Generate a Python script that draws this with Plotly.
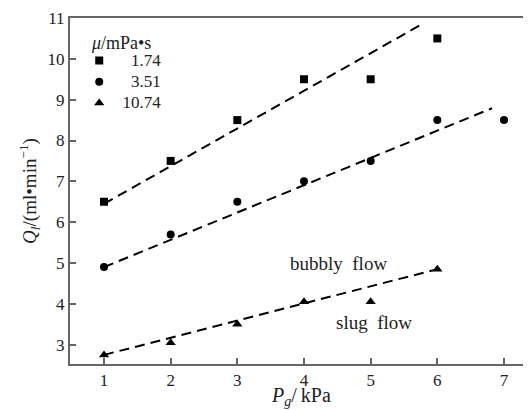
import plotly.graph_objects as go

# Data
pg = [1, 2, 3, 4, 5, 6]
pg_351 = [1, 2, 3, 4, 5, 6, 7]
q_174 = [6.5, 7.5, 8.5, 9.5, 9.5, 10.5]
q_351 = [4.9, 5.7, 6.5, 7.0, 7.5, 8.5, 8.5]
q_1074 = [2.75, 3.05, 3.5, 4.05, 4.05, 4.85]

# dashed fit lines (endpoints)
fit_174_x = [1.0, 5.77]
fit_174_y = [6.45, 10.85]
fit_351_x = [1.0, 6.82]
fit_351_y = [4.9, 8.79]
fit_1074_x = [1.0, 6.0]
fit_1074_y = [2.75, 4.85]

series_labels = ["1.74", "3.51", "10.74"]
legend_title = "<i>μ</i>/mPa•s"
x_title = "<i>P</i><sub><i>g</i></sub>/\u2009kPa"
y_title = "<i>Q</i><sub><i>l</i></sub>/(ml•min<sup>−1</sup>)"
x_ticks = [1, 2, 3, 4, 5, 6, 7]
y_ticks = [3, 4, 5, 6, 7, 8, 9, 10, 11]

FONT = "Liberation Serif"
dash = "10px,6px"


def legend_name(label):
    pad = "\u2007" * (5 - len(label))
    return '<span style="font-size:17px">\u2009' + pad + label + "</span>"


fig = go.Figure()
for fx, fy in [(fit_174_x, fit_174_y), (fit_351_x, fit_351_y), (fit_1074_x, fit_1074_y)]:
    fig.add_trace(go.Scatter(x=fx, y=fy, mode="lines", showlegend=False,
                             line=dict(color="black", width=2, dash=dash)))

fig.add_trace(go.Scatter(x=pg, y=q_174, mode="markers", name=legend_name(series_labels[0]),
                         marker=dict(symbol="square", size=8, color="black")))
fig.add_trace(go.Scatter(x=pg_351, y=q_351, mode="markers", name=legend_name(series_labels[1]),
                         marker=dict(symbol="circle", size=8, color="black")))
fig.add_trace(go.Scatter(x=pg, y=q_1074, mode="markers", name=legend_name(series_labels[2]),
                         marker=dict(symbol="triangle-up", size=9, color="black")))

fig.add_annotation(x=4.51, y=5.0, text="bubbly\u00a0\u00a0flow", showarrow=False,
                   font=dict(family=FONT, size=19, color="#222"))
fig.add_annotation(x=5.05, y=3.55, text="slug\u00a0\u00a0flow", showarrow=False,
                   font=dict(family=FONT, size=19, color="#222"))
fig.add_annotation(xref="paper", yref="paper", x=0.041, y=0.928, xanchor="left",
                   yanchor="middle", text=legend_title, showarrow=False,
                   font=dict(family=FONT, size=18, color="#222"))
# x-axis title, placed as in the reference (close to the lower edge)
fig.add_annotation(xref="paper", yref="paper", x=0.5, y=0, xanchor="center",
                   yanchor="middle", yshift=-32, text=x_title, showarrow=False,
                   font=dict(family=FONT, size=20, color="#222"))

# The page body has an 8px default margin, so the figure is sized to fill
# the remaining window and margins are shifted accordingly.
fig.update_layout(
    width=523, height=402,
    margin=dict(l=62, r=0, t=10, b=46),
    plot_bgcolor="white", paper_bgcolor="white",
    font=dict(family=FONT, size=17, color="#222"),
    legend=dict(
        x=0.02, y=0.922, xanchor="left", yanchor="top",
        font=dict(family=FONT, size=14),
        bgcolor="rgba(0,0,0,0)", tracegroupgap=0, itemwidth=30,
    ),
    xaxis=dict(
        range=[0.49, 7.405], tickvals=x_ticks, ticks="inside", ticklen=6,
        tickcolor="#666", tickwidth=1.5, automargin=False,
        showline=True, linecolor="#666", linewidth=2, mirror=True,
        showgrid=False, zeroline=False,
    ),
    yaxis=dict(
        range=[2.527, 11], tickvals=y_ticks, ticks="inside", ticklen=6,
        tickcolor="#666", tickwidth=1.5, automargin=False,
        showline=True, linecolor="#666", linewidth=2,
        showgrid=False, zeroline=False,
        title=dict(text=y_title, standoff=6, font=dict(family=FONT, size=19)),
    ),
)

fig.write_html("out.html")
